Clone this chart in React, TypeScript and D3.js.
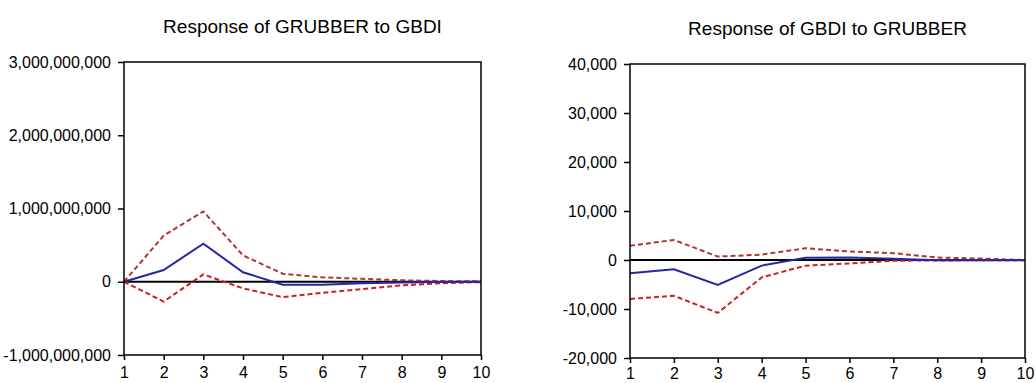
import { useEffect, useRef } from "react"
import * as d3 from "d3"

const periods = [1, 2, 3, 4, 5, 6, 7, 8, 9, 10]

// Response of GRUBBER to GBDI
const rubberResp = [0, 0.16e9, 0.52e9, 0.13e9, -0.04e9, -0.04e9, -0.02e9, -0.01e9, -0.005e9, 0]
const rubberUpper = [0, 0.63e9, 0.96e9, 0.36e9, 0.11e9, 0.06e9, 0.04e9, 0.02e9, 0.01e9, 0.005e9]
const rubberLower = [0, -0.27e9, 0.1e9, -0.09e9, -0.21e9, -0.15e9, -0.1e9, -0.05e9, -0.02e9, -0.005e9]
const rubberTicks = [-1e9, 0, 1e9, 2e9, 3e9]

// Response of GBDI to GRUBBER
const gbdiResp = [-2700, -1900, -5100, -1150, 450, 500, 250, -50, -50, -50]
const gbdiUpper = [2900, 4100, 700, 1100, 2400, 1750, 1400, 500, 300, 0]
const gbdiLower = [-7950, -7300, -10800, -3550, -1150, -700, -150, -100, -50, -50]
const gbdiTicks = [-20000, -10000, 0, 10000, 20000, 30000, 40000]

interface PanelSpec {
  title: string;
  left: number;
  right: number;
  top: number;
  bottom: number;
  titleY: number;
  xPad: number;
  domain: [number, number];
  ticks: number[];
  resp: number[];
  upper: number[];
  lower: number[];
}

const panels: PanelSpec[] = [
  {
    title: "Response of GRUBBER to GBDI",
    left: 124, right: 481, top: 62, bottom: 355, titleY: 33, xPad: 7,
    domain: [-1e9, 3e9], ticks: rubberTicks,
    resp: rubberResp, upper: rubberUpper, lower: rubberLower,
  },
  {
    title: "Response of GBDI to GRUBBER",
    left: 630, right: 1025, top: 64, bottom: 358, titleY: 35, xPad: 5,
    domain: [-20000, 40000], ticks: gbdiTicks,
    resp: gbdiResp, upper: gbdiUpper, lower: gbdiLower,
  },
]

export default function App() {
  const ref = useRef<SVGSVGElement>(null)

  useEffect(() => {
    if (!ref.current) return
    const root = d3.select(ref.current)
    root.selectAll("*").remove()
    const font = "'Liberation Sans', Arial, sans-serif"
    const fmt = (d: number) => d3.format(",")(d).replace("\u2212", "-")

    panels.forEach(p => {
      const g = root.append("g")
      const x = d3.scaleLinear().domain([1, 10]).range([p.left, p.right])
      const y = d3.scaleLinear().domain(p.domain).range([p.bottom, p.top])

      g.append("text")
        .attr("x", (p.left + p.right) / 2)
        .attr("y", p.titleY)
        .attr("text-anchor", "middle")
        .style("font-family", font)
        .style("font-size", "19px")
        .attr("fill", "#000")
        .text(p.title)

      // axes
      const yAxis = g.append("g")
        .attr("transform", `translate(${p.left},0)`)
        .call(d3.axisLeft(y).tickValues(p.ticks).tickSize(6).tickPadding(7)
          .tickFormat(d => fmt(d as number)))
      yAxis.select(".domain").remove()
      yAxis.selectAll("line").attr("stroke", "#000").attr("stroke-width", 1.5)
      yAxis.selectAll("text").style("font-family", font).style("font-size", "16px").attr("fill", "#000")

      const xAxis = g.append("g")
        .attr("transform", `translate(0,${p.bottom})`)
        .call(d3.axisBottom(x).tickValues(periods).tickSize(5).tickPadding(p.xPad).tickFormat(d3.format("d")))
      xAxis.select(".domain").remove()
      xAxis.selectAll("line").attr("stroke", "#000").attr("stroke-width", 1.5)
      xAxis.selectAll("text").style("font-family", font).style("font-size", "16px").attr("fill", "#000")

      // zero line
      g.append("line")
        .attr("x1", p.left).attr("x2", p.right)
        .attr("y1", y(0)).attr("y2", y(0))
        .attr("stroke", "#000").attr("stroke-width", 2)

      const line = d3.line<number>().x((_, i) => x(periods[i])).y(d => y(d))

      g.append("path").datum(p.upper)
        .attr("d", line).attr("fill", "none")
        .attr("stroke", "#b03535").attr("stroke-width", 2).attr("stroke-dasharray", "5,3")
      g.append("path").datum(p.lower)
        .attr("d", line).attr("fill", "none")
        .attr("stroke", "#c82222").attr("stroke-width", 2).attr("stroke-dasharray", "5,3")
      g.append("path").datum(p.resp)
        .attr("d", line).attr("fill", "none")
        .attr("stroke", "#2626a6").attr("stroke-width", 2)

      // frame
      g.append("rect")
        .attr("x", p.left).attr("y", p.top)
        .attr("width", p.right - p.left).attr("height", p.bottom - p.top)
        .attr("fill", "none").attr("stroke", "#000").attr("stroke-width", 1.5)
    })
  }, [])

  return (
    <div style={{ position: "absolute", left: 0, top: 0 }}>
      <svg ref={ref} width={1036} height={383} style={{ display: "block", background: "#fff" }}></svg>
    </div>
  )
}
